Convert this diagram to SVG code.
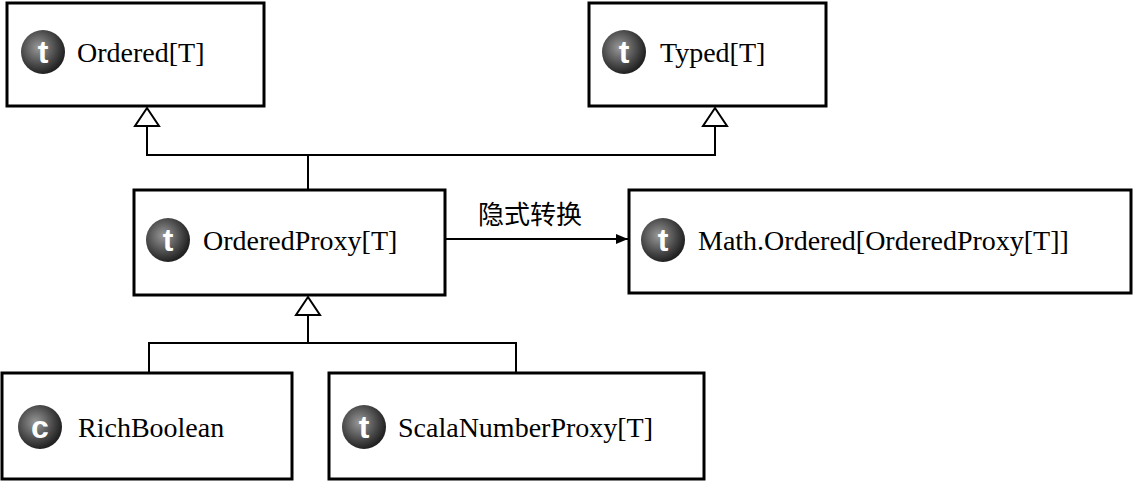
<svg xmlns="http://www.w3.org/2000/svg" width="1138" height="482" viewBox="0 0 1138 482">
<style>
.box{fill:#fff;stroke:#000;stroke-width:3}
.lbl{font-family:"Liberation Serif","Times New Roman","DejaVu Serif",serif;font-size:28px;fill:#000}
.cjk{font-family:"Noto Sans CJK SC",sans-serif;font-size:26px;fill:#000}
.ic{fill:url(#g)}
.il{font-family:"Liberation Sans",sans-serif;font-weight:bold;font-size:32px;fill:#fff;text-anchor:middle}
.ln{fill:none;stroke:#000;stroke-width:2}
.tri{fill:#fff;stroke:#000;stroke-width:2}
</style>
<defs>
<radialGradient id="g" cx="0.4" cy="0.4" r="0.6"><stop offset="0" stop-color="#999"/><stop offset="0.7" stop-color="#444"/><stop offset="1" stop-color="#222"/></radialGradient>
<marker id="ar" viewBox="0 0 12 10" refX="12" refY="5" markerWidth="12" markerHeight="10" markerUnits="userSpaceOnUse" orient="auto"><path d="M0,0L12,5L0,10z" fill="#000"/></marker>
</defs>
<g id="connectors">
<path class="ln" d="M147,126V155H715V126M308,155V190"/>
<path class="tri" d="M147,108L135,126H159Z"/>
<path class="tri" d="M715,108L703,126H727Z"/>
<path class="ln" d="M308,315V343H149V373M308,343H516V373"/>
<path class="tri" d="M308,297L296,315H320Z"/>
<line class="ln" x1="446" y1="239" x2="628" y2="239" marker-end="url(#ar)"/>
<text class="cjk" x="530" y="224" text-anchor="middle">隐式转换</text>
</g>
<g id="ordered"><rect class="box" x="7" y="3" width="257" height="103"/><circle class="ic" cx="43" cy="52" r="22"/><text class="il" x="43" y="63">t</text><text class="lbl" x="77" y="62">Ordered[T]</text></g>
<g id="typed"><rect class="box" x="589" y="3" width="237" height="103"/><circle class="ic" cx="624" cy="52" r="22"/><text class="il" x="624" y="63">t</text><text class="lbl" x="660" y="62">Typed[T]</text></g>
<g id="orderedproxy"><rect class="box" x="134" y="190" width="311" height="105"/><circle class="ic" cx="168" cy="240" r="22"/><text class="il" x="168" y="251">t</text><text class="lbl" x="203" y="250">OrderedProxy[T]</text></g>
<g id="math"><rect class="box" x="629" y="190" width="502" height="103"/><circle class="ic" cx="663" cy="240" r="22"/><text class="il" x="663" y="251">t</text><text class="lbl" x="698" y="250">Math.Ordered[OrderedProxy[T]]</text></g>
<g id="richboolean"><rect class="box" x="2" y="373" width="290" height="106"/><circle class="ic" cx="40" cy="427" r="22"/><text class="il" x="40" y="438">c</text><text class="lbl" x="78" y="437">RichBoolean</text></g>
<g id="scalanumberproxy"><rect class="box" x="329" y="373" width="375" height="106"/><circle class="ic" cx="364" cy="427" r="22"/><text class="il" x="364" y="438">t</text><text class="lbl" x="398" y="437">ScalaNumberProxy[T]</text></g>
</svg>
